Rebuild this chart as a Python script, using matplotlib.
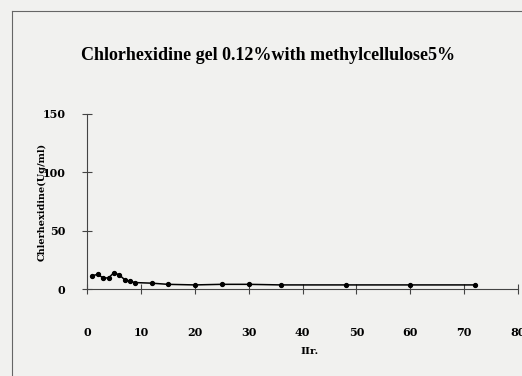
import numpy as np
import matplotlib.pyplot as plt
from matplotlib.lines import Line2D

# time (hr) and chlorhexidine concentration
hours = [1, 2, 3, 4, 5, 6, 7, 8, 9, 12, 15, 20, 25, 30, 36, 48, 60, 72]
conc = [11.5, 12.5, 9.5, 9.5, 14, 12, 8, 6.5, 5.5, 5, 4, 3.5, 4, 4, 3.5, 3.5, 3.5, 3.5]

x_ticks = [0, 10, 20, 30, 40, 50, 60, 70, 80]
y_ticks = [0, 50, 100, 150]

bg = '#f1f1ef'
fig = plt.figure(figsize=(5.22, 3.76), dpi=100, facecolor=bg)
ax = fig.add_axes([87/522, 1-289/376, 431/522, 175/376])
ax.set_facecolor('none')

ax.plot(hours, conc, color='black', linewidth=1.1, marker='o', markersize=2.8)

ax.set_xlim(0, 80)
ax.set_ylim(0, 150)
ax.set_xticks(x_ticks)
ax.set_yticks(y_ticks)

for s in ['top', 'right']:
    ax.spines[s].set_visible(False)
for s in ['left', 'bottom']:
    ax.spines[s].set_color('#444444')
    ax.spines[s].set_linewidth(0.8)

tfont = {'family': 'DejaVu Serif', 'weight': 'bold', 'size': 8}
ax.tick_params(axis='x', direction='inout', length=7, width=0.8, color='#444444', pad=24)
ax.tick_params(axis='y', direction='inout', length=7, width=0.8, color='#444444', pad=12)
for lab in ax.get_xticklabels() + ax.get_yticklabels():
    lab.set_fontproperties(tfont)

fig.text(268/522, 1-55/376, 'Chlorhexidine gel 0.12%with methylcellulose5%',
         ha='center', va='center', family='Liberation Serif', weight='bold', size=13)
fig.text(310/522, 1-352/376, 'IIr.', ha='center', va='center',
         family='DejaVu Serif', weight='bold', size=7.5)
fig.text(42/522, 1-202/376, 'Chlerhexidine(Ug/ml)', ha='center', va='center',
         rotation=90, family='DejaVu Serif', weight='bold', size=7)

# outer frame
fig.add_artist(Line2D([12/522, 1], [1-11/376, 1-11/376], color='#666666', lw=0.8))
fig.add_artist(Line2D([12/522, 12/522], [0, 1-11/376], color='#666666', lw=0.8))

fig.savefig('out.png', dpi=100, facecolor=bg)
